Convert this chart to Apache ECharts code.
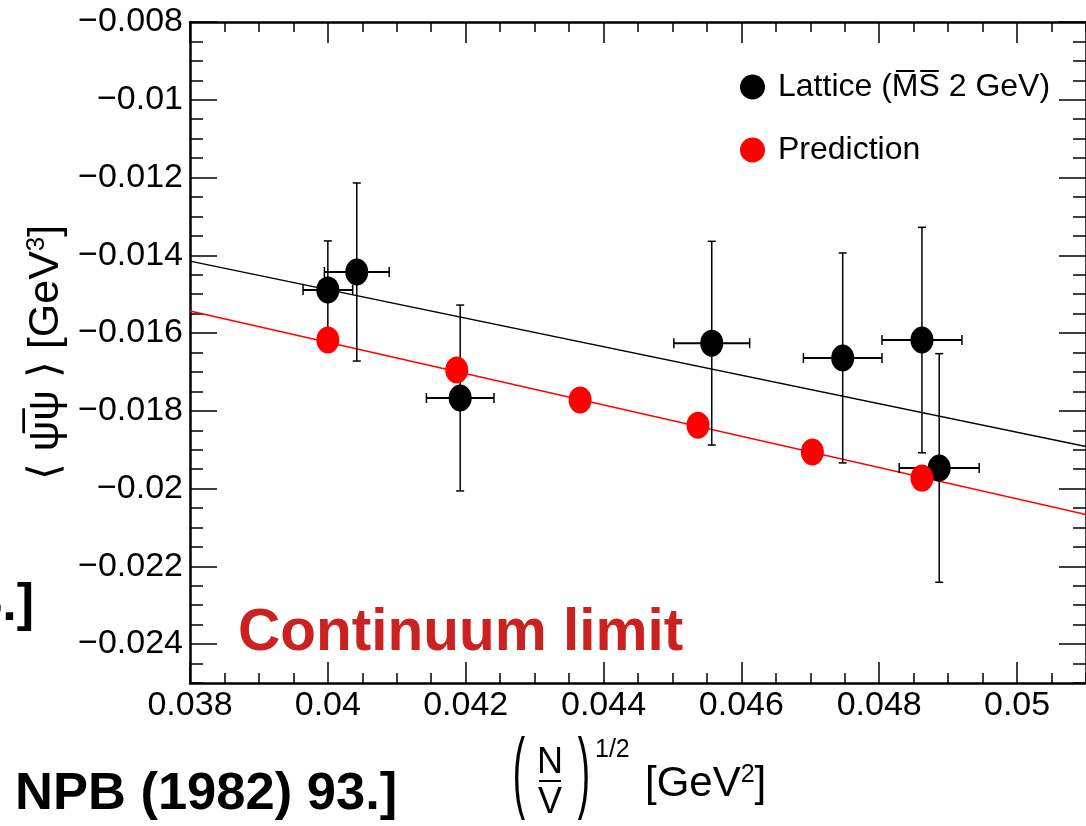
<!DOCTYPE html>
<html>
<head>
<meta charset="utf-8">
<script src="https://cdn.jsdelivr.net/npm/echarts@6/dist/echarts.min.js"></script>
<style>
  html, body { margin: 0; padding: 0; background: #fff; }
  #chart { width: 1086px; height: 826px; }
</style>
</head>
<body>
<div id="chart"></div>
<script>
// Axis ranges and labelled tick values
const xRange = [0.038, 0.051];
const yRange = [-0.025, -0.008];
const xMajorTicks = [0.038, 0.04, 0.042, 0.044, 0.046, 0.048, 0.05];
const yMajorTicks = [-0.024, -0.022, -0.02, -0.018, -0.016, -0.014, -0.012, -0.01, -0.008];
const minorStep = 0.0005;

// Lattice data: (N/V)^{1/2}, condensate, and their errors
const latticeX    = [0.0400, 0.04042, 0.04192, 0.04557, 0.04747, 0.04862, 0.04887];
const latticeY    = [-0.01489, -0.01443, -0.01767, -0.01626, -0.01664, -0.01618, -0.01947];
const latticeXErr = [0.00036, 0.00047, 0.00049, 0.00055, 0.00057, 0.00058, 0.00058];
const latticeYErr = [0.00126, 0.00229, 0.00239, 0.00262, 0.00270, 0.00290, 0.00294];

// Predicted values
const predictionX = [0.0400, 0.04187, 0.04366, 0.04537, 0.04703, 0.04862];
const predictionY = [-0.01618, -0.01695, -0.01772, -0.01837, -0.01906, -0.01973];

// Straight-line fits, given by their end points over the x range
const fitLatticeY    = [-0.01415, -0.01892];
const fitPredictionY = [-0.01543, -0.02067];

const FONT = "'Liberation Sans', Arial, Helvetica, sans-serif";
const latticeName = 'Lattice (M\u0305S\u0305 2 GeV)';
const predictionName = 'Prediction';
// Ellipse marker (stretched to the symbol box)
const ELLIPSE = 'path://M1,0A1,1,0,1,1,-1,0A1,1,0,1,1,1,0Z';

const fmtX = v => String(+v.toFixed(3));
const fmtY = v => (v < 0 ? '\u2212' : '') + String(+Math.abs(v).toFixed(3));

function axisPair(kind, position, withLabels) {
  const range = kind === 'x' ? xRange : yRange;
  const major = kind === 'x' ? xMajorTicks : yMajorTicks;
  const majorLen = kind === 'x' ? 21 : 27;
  const minorLen = kind === 'x' ? 10 : 13;
  const minorAxis = {
    type: 'value', position: position,
    min: range[0], max: range[1], interval: minorStep,
    axisLine: { show: true, onZero: false, lineStyle: { color: '#000', width: 2.5 } },
    axisTick: { show: true, inside: true, length: minorLen, lineStyle: { color: '#000', width: 1.5 } },
    splitLine: { show: false },
    axisLabel: withLabels ? {
      show: true, customValues: major,
      formatter: kind === 'x' ? fmtX : fmtY,
      fontSize: 34, fontFamily: FONT, color: '#000',
      margin: kind === 'x' ? 6 : 7
    } : { show: false }
  };
  const majorAxis = {
    type: 'value', position: position,
    min: range[0], max: range[1],
    axisLine: { show: false, onZero: false },
    axisTick: { show: true, inside: true, length: majorLen, customValues: major,
                lineStyle: { color: '#000', width: 1.5 } },
    splitLine: { show: false },
    axisLabel: { show: false }
  };
  return [minorAxis, majorAxis];
}

const xAxes = [...axisPair('x', 'bottom', true), ...axisPair('x', 'top', false)];
const yAxes = [...axisPair('y', 'left', true), ...axisPair('y', 'right', false)];
yAxes[0].name = '\u27E8 \u03C8\u0305\u03C8 \u27E9 [GeV{sup|3}]';
yAxes[0].nameLocation = 'middle';
yAxes[0].nameGap = 122;
yAxes[0].nameTextStyle = {
  fontSize: 43, fontFamily: FONT, color: '#000',
  rich: { sup: { fontSize: 26, fontFamily: FONT, color: '#000', verticalAlign: 'top', padding: [0, 0, 16, 0] } }
};

const errorData = latticeX.map((x, i) => [x, latticeY[i], latticeXErr[i], latticeYErr[i]]);

const chart = echarts.init(document.getElementById('chart'), null, { renderer: 'canvas' });
chart.setOption({
  animation: false,
  backgroundColor: '#fff',
  grid: { left: 190, top: 22, width: 903, height: 661, containLabel: false },
  xAxis: xAxes,
  yAxis: yAxes,
  legend: {
    orient: 'vertical', left: 735, top: 66,
    itemWidth: 25, itemHeight: 25, itemGap: 31,
    selectedMode: false,
    data: [{ name: latticeName, icon: 'circle' }, { name: predictionName, icon: 'circle' }],
    textStyle: { fontSize: 32, fontFamily: FONT, color: '#000', lineHeight: 27, padding: [0, 0, 0, 8] }
  },
  series: [
    {
      type: 'line', name: 'Lattice fit', silent: true, symbol: 'none', z: 2,
      data: [[xRange[0], fitLatticeY[0]], [xRange[1], fitLatticeY[1]]],
      lineStyle: { color: '#000', width: 1.5 }
    },
    {
      type: 'line', name: 'Prediction fit', silent: true, symbol: 'none', z: 2,
      data: [[xRange[0], fitPredictionY[0]], [xRange[1], fitPredictionY[1]]],
      lineStyle: { color: '#ff0000', width: 1.5 }
    },
    {
      type: 'custom', name: 'Lattice errors', silent: true, z: 3,
      encode: { x: 0, y: 1 },
      data: errorData,
      renderItem: function (params, api) {
        const x = api.value(0), y = api.value(1), ex = api.value(2), ey = api.value(3);
        const l = api.coord([x - ex, y]), r = api.coord([x + ex, y]);
        const t = api.coord([x, y + ey]), b = api.coord([x, y - ey]);
        const vs = { stroke: '#000', lineWidth: 1.5 };
        const hs = { stroke: '#000', lineWidth: 2 };
        const vc = 4, hc = 5;
        return {
          type: 'group',
          children: [
            { type: 'line', shape: { x1: t[0], y1: t[1], x2: b[0], y2: b[1] }, style: vs },
            { type: 'line', shape: { x1: t[0] - vc, y1: t[1], x2: t[0] + vc, y2: t[1] }, style: vs },
            { type: 'line', shape: { x1: b[0] - vc, y1: b[1], x2: b[0] + vc, y2: b[1] }, style: vs },
            { type: 'line', shape: { x1: l[0], y1: l[1], x2: r[0], y2: r[1] }, style: hs },
            { type: 'line', shape: { x1: l[0], y1: l[1] - hc, x2: l[0], y2: l[1] + hc }, style: vs },
            { type: 'line', shape: { x1: r[0], y1: r[1] - hc, x2: r[0], y2: r[1] + hc }, style: vs }
          ]
        };
      }
    },
    {
      type: 'scatter', name: latticeName, z: 4,
      symbol: ELLIPSE, symbolSize: [23, 27],
      itemStyle: { color: '#000', opacity: 1 },
      data: latticeX.map((x, i) => [x, latticeY[i]])
    },
    {
      type: 'scatter', name: predictionName, z: 5,
      symbol: ELLIPSE, symbolSize: [23, 27],
      itemStyle: { color: '#ff0000', opacity: 1 },
      data: predictionX.map((x, i) => [x, predictionY[i]])
    }
  ],
  graphic: [
    // x-axis title: (N/V)^{1/2} [GeV^2]
    { type: 'text', x: 519, y: 777, scaleY: 2.4, style: { text: '(', font: '37px ' + FONT, fill: '#000', align: 'center', verticalAlign: 'middle' } },
    { type: 'text', x: 550, y: 763, style: { text: 'N', font: '36px ' + FONT, fill: '#000', align: 'center', verticalAlign: 'middle' } },
    { type: 'line', shape: { x1: 539, y1: 781, x2: 561, y2: 781 }, style: { stroke: '#000', lineWidth: 2 } },
    { type: 'text', x: 550, y: 803, style: { text: 'V', font: '36px ' + FONT, fill: '#000', align: 'center', verticalAlign: 'middle' } },
    { type: 'text', x: 584, y: 777, scaleY: 2.4, style: { text: ')', font: '37px ' + FONT, fill: '#000', align: 'center', verticalAlign: 'middle' } },
    { type: 'text', x: 595, y: 750, style: { text: '1/2', font: '25px ' + FONT, fill: '#000', align: 'left', verticalAlign: 'middle' } },
    { type: 'text', x: 645, y: 784, style: {
        text: '[GeV{sup|2}]', font: '42px ' + FONT, fill: '#000', align: 'left', verticalAlign: 'middle',
        rich: { sup: { font: '25px ' + FONT, fill: '#000', verticalAlign: 'top', padding: [0, 0, 16, 0] } }
    } },
    // annotation inside the frame
    { type: 'text', x: 238, y: 634, style: { text: 'Continuum limit', font: 'bold 58.5px ' + FONT, fill: '#cb2121', align: 'left', verticalAlign: 'middle' } },
    // reference fragments beside the frame
    { type: 'text', x: 34, y: 606, style: { text: '5.]', font: 'bold 52px ' + FONT, fill: '#000', align: 'right', verticalAlign: 'middle' } },
    { type: 'text', x: 15, y: 795, style: { text: 'NPB (1982) 93.]', font: 'bold 52.5px ' + FONT, fill: '#000', align: 'left', verticalAlign: 'middle' } }
  ]
});
</script>
</body>
</html>
